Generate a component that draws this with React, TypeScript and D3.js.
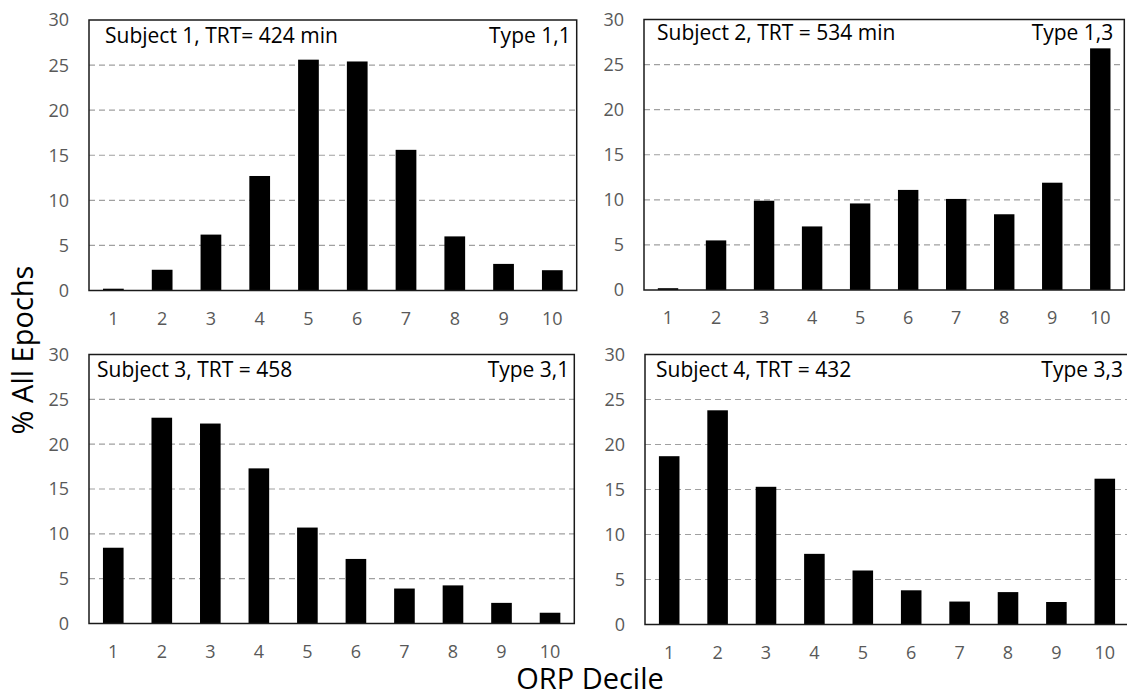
import React from "react";
import * as d3 from "d3";

// ---- Data ----
const deciles = ["1", "2", "3", "4", "5", "6", "7", "8", "9", "10"];
const subject1 = [0.2, 2.3, 6.2, 12.7, 25.6, 25.4, 15.6, 6.0, 2.95, 2.25];
const subject2 = [0.2, 5.5, 9.9, 7.05, 9.6, 11.1, 10.1, 8.4, 11.9, 26.8];
const subject3 = [8.45, 22.95, 22.3, 17.3, 10.7, 7.2, 3.9, 4.25, 2.3, 1.2];
const subject4 = [18.7, 23.8, 15.3, 7.85, 6.0, 3.8, 2.55, 3.6, 2.5, 16.2];
const yTicks = [0, 5, 10, 15, 20, 25, 30];
const titles = [
  "Subject 1, TRT= 424 min",
  "Subject 2, TRT = 534 min",
  "Subject 3, TRT = 458",
  "Subject 4, TRT = 432",
];
const types = ["Type 1,1", "Type 1,3", "Type 3,1", "Type 3,3"];
const yAxisLabel = "% All Epochs";
const xAxisLabel = "ORP Decile";

const seriesList = [subject1, subject2, subject3, subject4];

// ---- Layout (positions only) ----
const frames = [
  { x0: 89, x1: 576.7, y0: 20, y1: 290.5, tl: 16, tr: 6, tb: 22.7 },
  { x0: 644, x1: 1124.3, y0: 19.5, y1: 290, tl: 13, tr: 11, tb: 20.5 },
  { x0: 89, x1: 574.3, y0: 354.5, y1: 623.5, tl: 8, tr: 5, tb: 22.8 },
  { x0: 645, x1: 1129, y0: 354.5, y1: 624.5, tl: 11, tr: 6, tb: 22.2 },
];

const FONT = "'Open Sans', 'Noto Sans', sans-serif";

function Panel({ idx }: { idx: number }) {
  const f = frames[idx];
  const values = seriesList[idx];
  const x = d3
    .scaleBand<string>()
    .domain(deciles)
    .range([f.x0, f.x1])
    .paddingInner(0.575)
    .paddingOuter(0.2875);
  const y = d3.scaleLinear().domain([0, 30]).range([f.y1, f.y0]);
  return (
    <g>
      {yTicks
        .filter((t) => t > 0 && t < 30)
        .map((t) => (
          <line
            key={"g" + t}
            x1={f.x0}
            x2={f.x1}
            y1={y(t)}
            y2={y(t)}
            stroke="#a0a0a0"
            strokeWidth={1.1}
            strokeDasharray="6,4"
          />
        ))}
      {values.map((v, i) => (
        <rect
          key={"b" + i}
          x={x(deciles[i])!}
          width={x.bandwidth()}
          y={y(v)}
          height={y(0) - y(v)}
          fill="#000"
        />
      ))}
      <rect
        x={f.x0}
        y={f.y0}
        width={f.x1 - f.x0}
        height={f.y1 - f.y0}
        fill="none"
        stroke="#1a1a1a"
        strokeWidth={1.5}
      />
      {yTicks.map((t) => (
        <text
          key={"yt" + t}
          x={f.x0 - 20}
          y={y(t)}
          dy="0.36em"
          textAnchor="end"
          fontSize={18}
          fontFamily={FONT}
          fill="#595959"
        >
          {t}
        </text>
      ))}
      {deciles.map((d) => (
        <text
          key={"xt" + d}
          x={x(d)! + x.bandwidth() / 2}
          y={f.y1 + 34}
          textAnchor="middle"
          fontSize={18}
          fontFamily={FONT}
          fill="#595959"
        >
          {d}
        </text>
      ))}
      <text
        x={f.x0 + f.tl}
        y={f.y0 + f.tb}
        fontSize={21}
        fontFamily={FONT}
        fill="#000"
      >
        {titles[idx]}
      </text>
      <text
        x={f.x1 - f.tr}
        y={f.y0 + f.tb}
        textAnchor="end"
        fontSize={21}
        fontFamily={FONT}
        fill="#000"
      >
        {types[idx]}
      </text>
    </g>
  );
}

export default function App() {
  return (
    <svg
      width={1127}
      height={694}
      style={{ position: "absolute", left: 0, top: 0, background: "#fff" }}
    >
      <rect x={0} y={0} width={1127} height={694} fill="#fff" />
      {[0, 1, 2, 3].map((i) => (
        <Panel key={i} idx={i} />
      ))}
      <text
        transform="translate(33,350) rotate(-90)"
        textAnchor="middle"
        fontSize={29}
        fontFamily={FONT}
        fill="#000"
      >
        {yAxisLabel}
      </text>
      <text
        x={590}
        y={689}
        textAnchor="middle"
        fontSize={29}
        fontFamily={FONT}
        fill="#000"
      >
        {xAxisLabel}
      </text>
    </svg>
  );
}
